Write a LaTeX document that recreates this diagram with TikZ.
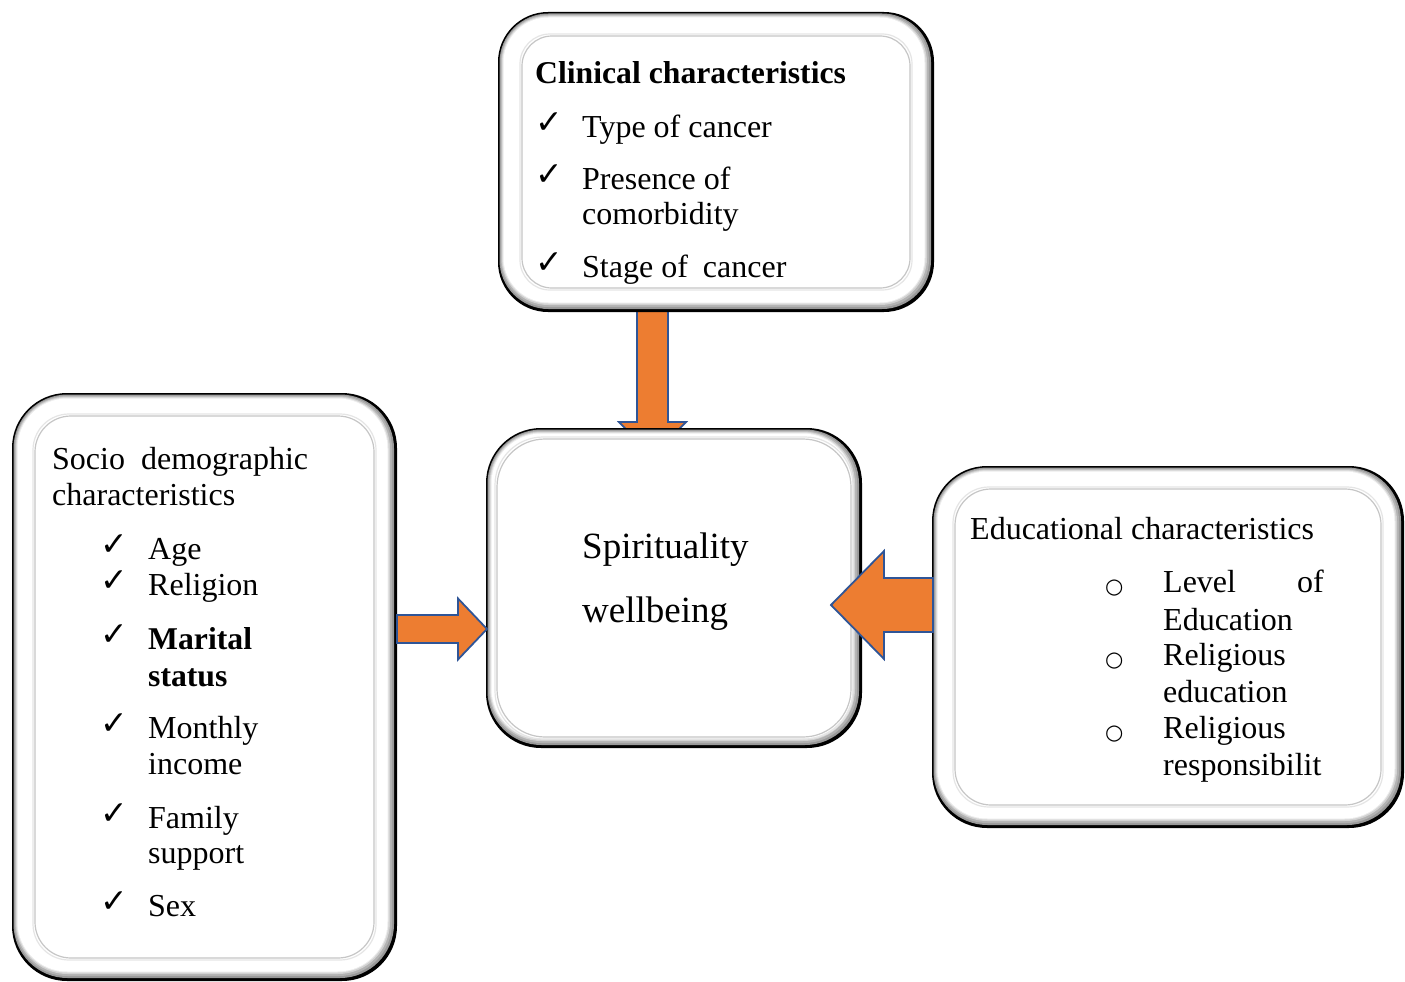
\documentclass[tikz,border=0pt]{standalone}
\usepackage{fontspec}
\setmainfont{Liberation Serif}
\newfontfamily\dvs{DejaVu Sans}
\usetikzlibrary{calc,fit}
\definecolor{arrorange}{HTML}{ED7D31}
\definecolor{arrblue}{HTML}{2F5597}
\tikzset{
  blockarrow/.style={fill=arrorange, draw=arrblue, line width=1.8pt, line join=miter},
  txt/.style={anchor=base west, inner sep=0pt, font=\fontsize{32}{36}\selectfont},
  txtb/.style={anchor=base west, inner sep=0pt, font=\bfseries\fontsize{31.7}{36}\selectfont},
  big/.style={anchor=base west, inner sep=0pt, font=\fontsize{37}{42}\selectfont},
  chk/.style={anchor=base west, inner sep=0pt, font=\dvs\fontsize{33}{36}\selectfont},
  bul/.style={anchor=base west, inner sep=0pt, font=\dvs\fontsize{21}{24}\selectfont},
  boxname/.style={inner sep=0pt, outer sep=0pt},
}
% x1 y1 x2 y2 radius inset
\newcommand\bevbox[6]{%
  \fill[black, rounded corners=#5pt] (#1,#2) rectangle (#3,#4);
  \fill[gray!80, rounded corners=#5pt-1pt] (#1+1.5,#2+1.5) rectangle (#3-3,#4-3);
  \fill[gray!60, rounded corners=#5pt-2pt] (#1+2.5,#2+2.5) rectangle (#3-5,#4-5);
  \fill[gray!35, rounded corners=#5pt-3pt] (#1+3.5,#2+3.5) rectangle (#3-7,#4-7);
  \fill[gray!15, rounded corners=#5pt-4pt] (#1+4.5,#2+4.5) rectangle (#3-8.5,#4-8.5);
  \fill[white, rounded corners=#5pt-5pt] (#1+5.5,#2+5.5) rectangle (#3-9.5,#4-9.5);
  \draw[gray!20, line width=1.2pt, rounded corners=#5pt-#6pt+4pt] (#1+#6-2,#2+#6-2) rectangle (#3-#6+2,#4-#6+2);
  \draw[gray!45, line width=1.2pt, rounded corners=#5pt-#6pt+4pt] (#1+#6,#2+#6) rectangle (#3-#6,#4-#6);
}
\begin{document}
\begin{tikzpicture}[x=1pt,y=-1pt]
\useasboundingbox (0,0) rectangle (1405,982);
% named box nodes
\node[boxname, fit={(498,12) (934,312)}] (clin) {};
\node[boxname, fit={(12,393) (397,981)}] (soc) {};
\node[boxname, fit={(486,428) (862,748)}] (cen) {};
\node[boxname, fit={(932,466) (1404,828)}] (edu) {};
\coordinate (dx) at (652.5,0);
\coordinate (ly) at (0,629);
\coordinate (ry) at (0,605);
% down arrow (clinical -> centre), head partly hidden by the centre box
\coordinate (dA) at (dx |- clin.south);
\coordinate (dB) at ($(dx |- cen.north)+(0,28)$);
\draw[blockarrow] ($(dA)+(-15.5,-3)$) -- ($(dB)+(-15.5,-34)$) -- ($(dB)+(-33.5,-34)$) -- (dB)
  -- ($(dB)+(33.5,-34)$) -- ($(dB)+(15.5,-34)$) -- ($(dA)+(15.5,-3)$) -- cycle;
% boxes
\bevbox{498}{12}{934}{312}{50}{24}
\bevbox{12}{393}{397}{981}{55}{23}
\bevbox{486}{428}{862}{748}{55}{11}
\bevbox{932}{466}{1404}{828}{55}{23}
% left arrow (socio -> centre)
\coordinate (lA) at (soc.east |- ly);
\coordinate (lB) at ($(cen.west |- ly)+(1,0)$);
\draw[blockarrow] ($(lA)+(0,-14)$) -- ($(lB)+(-29,-14)$) -- ($(lB)+(-29,-30.5)$) -- (lB)
  -- ($(lB)+(-29,30.5)$) -- ($(lB)+(-29,14)$) -- ($(lA)+(0,14)$) -- cycle;
% right arrow (educational -> centre)
\coordinate (rA) at ($(edu.west |- ry)+(1,0)$);
\coordinate (rB) at ($(cen.east |- ry)+(-31,0)$);
\draw[blockarrow] ($(rA)+(0,-27)$) -- ($(rB)+(53,-27)$) -- ($(rB)+(53,-54)$) -- (rB)
  -- ($(rB)+(53,54)$) -- ($(rB)+(53,27)$) -- ($(rA)+(0,27)$) -- cycle;
% clinical texts
\node[txtb] (c0) at (535,83) {Clinical characteristics};
\node[chk] (c1k) at (535,133) {✓};
\node[txt] (c1) at (582,137) {Type of cancer};
\node[chk] (c2k) at (535,185) {✓};
\node[txt] (c2) at (582,189) {Presence of};
\node[txt] (c2b) at (582,224) {comorbidity};
\node[chk] (c3k) at (535,273) {✓};
\node[txt] (c3) at (582,277) {Stage of\hspace{15pt}cancer};
% socio texts
\node[txt] (s0) at (52,469) {Socio\hspace{16pt}demographic};
\node[txt] (s0b) at (52,505) {characteristics};
\node[chk] (s1k) at (100,555) {✓};
\node[txt] (s1) at (148,559) {Age};
\node[chk] (s2k) at (100,591) {✓};
\node[txt] (s2) at (148,595) {Religion};
\node[chk] (s3k) at (100,645) {✓};
\node[txtb] (s3) at (148,649) {Marital};
\node[txtb] (s3b) at (148,686) {status};
\node[chk] (s4k) at (100,734) {✓};
\node[txt] (s4) at (148,738) {Monthly};
\node[txt] (s4b) at (148,774) {income};
\node[chk] (s5k) at (100,824) {✓};
\node[txt] (s5) at (148,828) {Family};
\node[txt] (s5b) at (148,863) {support};
\node[chk] (s6k) at (100,912) {✓};
\node[txt] (s6) at (148,916) {Sex};
% centre texts
\node[big] (m1) at (582,558) {Spirituality};
\node[big] (m2) at (582,622) {wellbeing};
% educational texts
\node[txt] (e0) at (970,539) {Educational characteristics};
\node[bul] (e1k) at (1105,593) {○};
\node[txt] (e1) at (1163,592) {Level};
\node[txt, anchor=base east] (e1o) at (1324,592) {of};
\node[txt] (e1b) at (1163,630) {Education};
\node[bul] (e2k) at (1105,666) {○};
\node[txt] (e2) at (1163,665) {Religious};
\node[txt] (e2b) at (1163,702) {education};
\node[bul] (e3k) at (1105,739) {○};
\node[txt] (e3) at (1163,738) {Religious};
\node[txt] (e3b) at (1163,775) {responsibilit};
\end{tikzpicture}
\end{document}
